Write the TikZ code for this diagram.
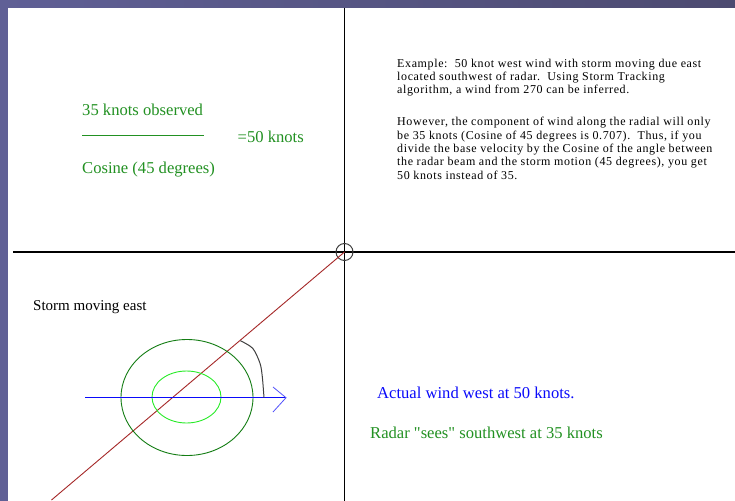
\documentclass[tikz,border=0pt]{standalone}
\usepackage{fontspec}
\setmainfont{Liberation Serif}[Ligatures=TeXOff]
\usetikzlibrary{shapes.geometric}
\definecolor{bgA}{RGB}{96,96,150}
\definecolor{bgB}{RGB}{76,74,112}
\definecolor{txtgreen}{RGB}{34,145,34}
\definecolor{darkgr}{RGB}{20,125,20}
\definecolor{litegr}{RGB}{40,235,40}
\definecolor{radred}{RGB}{165,40,40}
\definecolor{wblue}{RGB}{10,10,250}
\tikzset{
  lbl/.style={inner sep=0pt, anchor=base west, font=\fontsize{16.6}{19}\selectfont},
  axis/.style={draw=black, line width=1.3pt},
}
\begin{document}
\begin{tikzpicture}[x=1pt,y=-1pt]
\useasboundingbox (0,0) rectangle (735,500);
\shade[left color=bgA, right color=bgB] (0,0) rectangle (735,500);
\fill[white] (8,8) rectangle (740,505);
% axes
\coordinate (top) at (344.5,8);
\coordinate (bot) at (344.5,502);
\coordinate (lft) at (13,252);
\coordinate (rgt) at (737,252);
\coordinate (o) at (344.5,252);
\draw[axis] (top) -- (bot);
\draw[axis] (lft) -- (rgt);
\node[draw=black!75, line width=1pt, circle, minimum size=17pt, inner sep=0pt] (radar) at (o) {};
% radial
\coordinate (rend) at (51.5,500);
\draw[radred, line width=0.9pt] (o) -- (rend);
% storm
\node[draw=darkgr, line width=0.9pt, ellipse, minimum width=132pt, minimum height=116pt, inner sep=0pt] (big) at (187,397.5) {};
\node[draw=litegr, line width=0.9pt, ellipse, minimum width=69pt, minimum height=52pt, inner sep=0pt] (small) at (186.5,397) {};
% wind arrow
\coordinate (wa) at (85,397.7);
\coordinate (wb) at (286,397.7);
\coordinate (h1) at (273,387);
\coordinate (h2) at (273,412);
\draw[wblue, line width=1pt] (wa) -- (wb);
\draw[wblue!70, line width=0.8pt] (h1) -- (wb) -- (h2);
% angle arc
\draw[black!75, line width=1pt] plot[smooth] coordinates {(240.3,340.7) (252.7,348.3) (260,363.3) (262.3,376.7) (264,397.7)};
% formula
\node[lbl, text=txtgreen] (obs) at (82,115) {35 knots observed};
\coordinate (fa) at (82,135.7);
\coordinate (fb) at (204,135.7);
\draw[txtgreen, line width=0.8pt] (fa) -- (fb);
\node[lbl, text=txtgreen] (res) at (237.5,142.7) {=50 knots};
\node[lbl, text=txtgreen] (cos) at (82,173.3) {Cosine (45 degrees)};
% labels
\node[lbl, font=\fontsize{15}{18}\selectfont] (storm) at (33,310) {Storm moving east};
\node[lbl, text=wblue] (actual) at (377,398.3) {Actual wind west at 50 knots.};
\node[lbl, text=txtgreen] (sees) at (370,438.3) {Radar "sees" southwest at 35 knots};
% paragraph
\node[inner sep=0pt, anchor=base west, font=\fontsize{12}{13.33}\selectfont\addfontfeature{LetterSpace=5.2}] (para) at (397,67.3)
{\begin{tabular}[t]{@{}l@{}}
Example:\ \ 50 knot west wind with storm moving due east\\
located southwest of radar.\ \ Using Storm Tracking\\
algorithm, a wind from 270 can be inferred.\\[18.5pt]
However, the component of wind along the radial will only\\
be 35 knots (Cosine of 45 degrees is 0.707).\ \ Thus, if you\\
divide the base velocity by the Cosine of the angle between\\
the radar beam and the storm motion (45 degrees), you get\\
50 knots instead of 35.
\end{tabular}};
\end{tikzpicture}
\end{document}
